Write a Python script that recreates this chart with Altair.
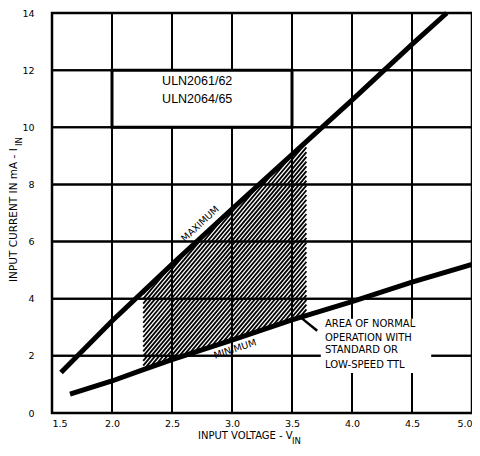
import altair as alt
import pandas as pd
import numpy as np

# ---- data ----
x_ticks = [1.5, 2.0, 2.5, 3.0, 3.5, 4.0, 4.5, 5.0]
y_ticks = [0, 2, 4, 6, 8, 10, 12, 14]

max_v = [1.575, 2.0, 2.5, 3.0, 3.5, 4.0, 4.5, 4.79]
max_i = [1.42, 3.22, 5.2, 7.14, 9.04, 10.95, 12.9, 14.0]

min_v = [1.65, 2.0, 2.25, 2.5, 3.0, 3.5, 4.0, 4.5, 5.0]
min_i = [0.66, 1.12, 1.5, 1.87, 2.55, 3.26, 3.9, 4.58, 5.2]

hatch_span = [2.26, 3.62]          # V range of the shaded "normal operation" area
box_x = [2.0, 3.5]
box_y = [10, 12]
box_labels = ["ULN2061/62", "ULN2064/65"]
box_label_y = [11.63, 11.0]
note_lines = ["AREA OF NORMAL", "OPERATION WITH", "STANDARD OR", "LOW-SPEED TTL"]
note_y = [3.10, 2.64, 2.19, 1.67]
note_x = 3.775

W, H = 420, 400
X0, X1, Y0, Y1 = 1.5, 5.0, 0, 14
px_per_v = W / (X1 - X0)
px_per_ma = H / (Y1 - Y0)

xs_scale = alt.Scale(domain=[X0, X1], nice=False, zero=False)
ys_scale = alt.Scale(domain=[Y0, Y1], nice=False, zero=False)

# ---- grid rules with explicit end points ----
g = []
for gx in x_ticks:
    g.append({"gxa": gx, "gya": Y0, "gxb": gx, "gyb": Y1})
for gy in y_ticks:
    g.append({"gxa": X0, "gya": gy, "gxb": X1, "gyb": gy})
grid_df = pd.DataFrame(g)

grid_first = alt.Chart(grid_df).mark_rule(color="#000000", strokeWidth=2).encode(
    x=alt.X("gxa:Q", scale=xs_scale,
            axis=alt.Axis(values=x_ticks, format=".1f", title=None, labelPadding=5, labelFlush=True)),
    y=alt.Y("gya:Q", scale=ys_scale,
            axis=alt.Axis(values=y_ticks, title=None, labelPadding=18)),
    x2="gxb:Q", y2="gyb:Q",
)
grid_again = alt.Chart(grid_df).mark_rule(color="#000000", strokeWidth=2).encode(
    x="gxa:Q", y="gya:Q", x2="gxb:Q", y2="gyb:Q",
)

# ---- hatch segments (clipped between the two curves) ----
k = np.tan(np.radians(50)) * px_per_v / px_per_ma
dc = 4 / px_per_v
xs = np.linspace(hatch_span[0], hatch_span[1], 4000)
lo = np.interp(xs, min_v, min_i)
hi = np.interp(xs, max_v, max_i)
rows = []
c = hatch_span[0] - 10 / k
while c < hatch_span[1]:
    ys = k * (xs - c)
    m = (ys >= lo) & (ys <= hi)
    if m.any():
        idx = np.where(m)[0]
        a, b = idx[0], idx[-1]
        rows.append({"ax": float(xs[a]), "ay": float(ys[a]), "bx": float(xs[b]), "by": float(ys[b])})
    c += dc
hatch = alt.Chart(pd.DataFrame(rows)).mark_rule(color="black", strokeWidth=1.8).encode(
    x="ax:Q", y="ay:Q", x2="bx:Q", y2="by:Q"
)

curves = pd.DataFrame({
    "v": max_v + min_v,
    "i": max_i + min_i,
    "s": ["max"] * len(max_v) + ["min"] * len(min_v),
})
lines = alt.Chart(curves).mark_line(color="black", strokeWidth=5, strokeCap="butt").encode(
    x=alt.X("v:Q", scale=xs_scale),
    y=alt.Y("i:Q", scale=ys_scale),
    detail="s:N",
)

box = alt.Chart(pd.DataFrame({"bx0": [box_x[0]], "bx1": [box_x[1]], "by0": [box_y[0]], "by1": [box_y[1]]})).mark_rect(
    fill="white", stroke="black", strokeWidth=3
).encode(x="bx0:Q", x2="bx1:Q", y="by0:Q", y2="by1:Q")

box_text = alt.Chart(pd.DataFrame({"t": box_labels, "ty": box_label_y, "tx": [2.71, 2.71]})).mark_text(
    font="Liberation Sans", fontSize=12.5, color="black", align="center", baseline="middle"
).encode(x="tx:Q", y="ty:Q", text="t:N")

max_lbl = alt.Chart(pd.DataFrame({"t": ["MAXIMUM"], "tx": [2.735], "ty": [6.62]})).mark_text(
    font="DejaVu Sans", fontSize=9.5, angle=317.2, color="black", align="center", baseline="middle"
).encode(x="tx:Q", y="ty:Q", text="t:N")

min_lbl = alt.Chart(pd.DataFrame({"t": ["MINIMUM"], "tx": [3.025], "ty": [2.24]})).mark_text(
    font="DejaVu Sans", fontSize=9.5, angle=342, color="black", align="center", baseline="middle"
).encode(x="tx:Q", y="ty:Q", text="t:N")

note_bg = alt.Chart(pd.DataFrame({"nx0": [3.74], "nx1": [4.66], "ny0": [1.4], "ny1": [3.3]})).mark_rect(
    fill="white"
).encode(x="nx0:Q", x2="nx1:Q", y="ny0:Q", y2="ny1:Q")

note = alt.Chart(pd.DataFrame({"t": note_lines, "ty": note_y, "tx": [note_x] * 4})).mark_text(
    font="DejaVu Sans", fontSize=10, color="black", align="left", baseline="middle"
).encode(x="tx:Q", y="ty:Q", text="t:N")

leader = alt.Chart(pd.DataFrame({"lx0": [3.58], "ly0": [3.32], "lx1": [3.71], "ly1": [2.88]})).mark_rule(
    color="black", strokeWidth=2.5
).encode(x="lx0:Q", y="ly0:Q", x2="lx1:Q", y2="ly1:Q")

xt = alt.Chart(pd.DataFrame({"t": ["INPUT VOLTAGE - V"]})).mark_text(
    font="DejaVu Sans", fontSize=10, align="left", baseline="middle", color="black"
).encode(x=alt.value(146), y=alt.value(423), text="t:N")
xt_sub = alt.Chart(pd.DataFrame({"t": ["IN"]})).mark_text(
    font="DejaVu Sans", fontSize=8.5, align="left", baseline="middle", color="black"
).encode(x=alt.value(240), y=alt.value(428), text="t:N")
yt = alt.Chart(pd.DataFrame({"t": ["INPUT CURRENT IN mA - I"]})).mark_text(
    font="DejaVu Sans", fontSize=10.5, align="left", baseline="middle", angle=270, color="black"
).encode(x=alt.value(-38), y=alt.value(269), text="t:N")
yt_sub = alt.Chart(pd.DataFrame({"t": ["IN"]})).mark_text(
    font="DejaVu Sans", fontSize=8.5, align="left", baseline="middle", angle=270, color="black"
).encode(x=alt.value(-33), y=alt.value(133), text="t:N")

chart = alt.layer(
    grid_first, hatch, lines, grid_again, box, box_text, max_lbl, min_lbl, note_bg, note, leader,
    xt, xt_sub, yt, yt_sub
).properties(
    width=W, height=H,
    autosize=alt.AutoSizeParams(type="none"),
    padding={"left": 44, "top": 5, "right": 0, "bottom": 35},
).configure_view(
    stroke="black", strokeWidth=2.5
).configure_axis(
    grid=False, domain=False, ticks=False,
    labelFont="DejaVu Sans", labelFontSize=9.5, labelColor="black",
)

chart.save("out.html", embed_options={"renderer": "svg", "actions": False})
